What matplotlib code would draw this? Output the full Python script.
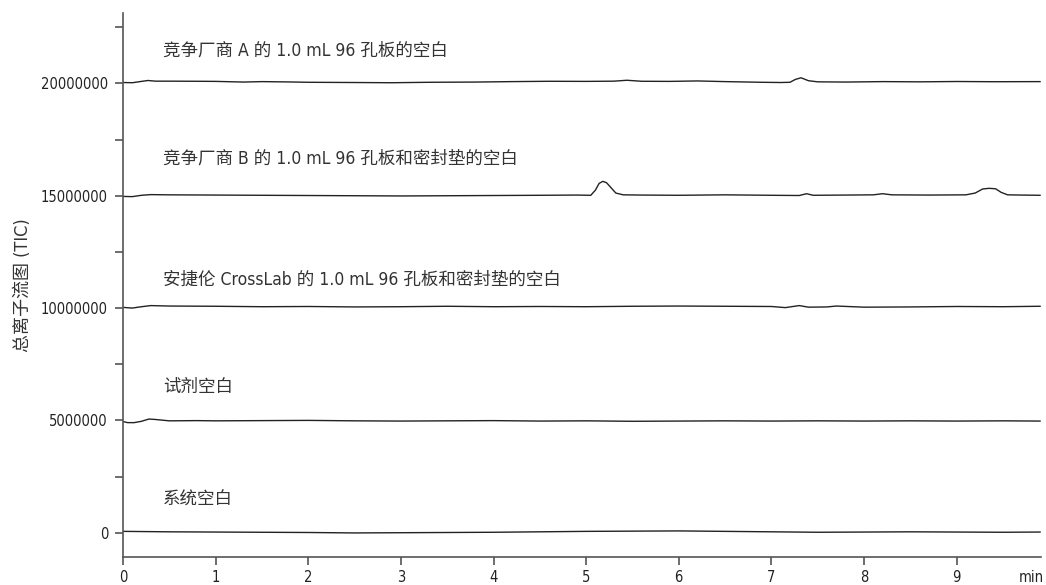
import matplotlib
matplotlib.use("Agg")
import matplotlib.pyplot as plt
import numpy as np

plt.rcParams['font.family'] = ['DejaVu Sans', 'Noto Sans CJK SC']
plt.rcParams['font.stretch'] = 'condensed'

# ---- data (offset traces, TIC counts) ----
offsets = [20000000, 15000000, 10000000, 5000000, 0]
labels = ["竞争厂商 A 的 1.0 mL 96 孔板的空白",
          "竞争厂商 B 的 1.0 mL 96 孔板和密封垫的空白",
          "安捷伦 CrossLab 的 1.0 mL 96 孔板和密封垫的空白",
          "试剂空白",
          "系统空白"]

t_a = [0, 0.1, 0.2, 0.27, 0.35, 0.5, 0.8, 1.0, 1.3, 1.5, 1.8, 2.0, 2.5, 2.9, 3.3, 3.8, 4.2, 4.6,
       5.0, 5.3, 5.44, 5.6, 5.9, 6.2, 6.5, 6.9, 7.1, 7.2, 7.26, 7.32, 7.4, 7.5, 7.8, 8.2, 8.6, 9.0, 9.4, 9.9]
v_a = [40, 30, 90, 130, 100, 100, 95, 90, 60, 80, 65, 50, 40, 30, 50, 60, 80, 95,
       90, 100, 140, 95, 90, 110, 80, 50, 40, 50, 180, 250, 120, 70, 60, 80, 70, 85, 75, 80]

t_b = [0, 0.1, 0.2, 0.3, 0.5, 1, 1.5, 2, 2.5, 3, 3.5, 4, 4.5, 4.9, 5.05, 5.1, 5.14, 5.18, 5.22,
       5.27, 5.32, 5.4, 5.6, 6, 6.5, 7, 7.3, 7.38, 7.45, 7.8, 8.1, 8.2, 8.3, 8.7, 9.1, 9.2, 9.28,
       9.35, 9.42, 9.48, 9.55, 9.7, 9.9]
v_b = [-30, -40, 20, 50, 40, 30, 20, 10, 0, -10, 0, 10, 20, 30, 20, 250, 550, 640, 580,
       350, 120, 40, 30, 20, 40, 20, 10, 90, 20, 30, 40, 90, 40, 30, 40, 120, 300,
       330, 310, 150, 40, 30, 20]

t_c = [0, 0.1, 0.2, 0.3, 0.5, 1, 1.5, 2, 2.5, 3, 3.5, 4, 4.5, 5, 5.5, 6, 6.5, 7, 7.15, 7.3,
       7.4, 7.6, 7.7, 8, 8.5, 9, 9.5, 9.9]
v_c = [30, 0, 60, 110, 90, 80, 60, 70, 50, 60, 80, 60, 70, 60, 80, 90, 80, 70, 20, 110,
       40, 50, 90, 40, 50, 70, 60, 80]

t_d = [0, 0.05, 0.12, 0.2, 0.28, 0.35, 0.5, 0.8, 1, 1.5, 2, 2.5, 3, 3.5, 4, 4.5, 5, 5.5, 6,
       6.5, 7, 7.5, 8, 8.5, 9, 9.5, 9.9]
v_d = [-50, -100, -100, -40, 60, 40, -20, -10, -20, -10, 0, -20, -30, -20, -10, -30, -20,
       -40, -30, -20, -30, -20, -30, -20, -30, -20, -30]

t_e = [0, 0.5, 1, 1.5, 2, 2.5, 3, 3.5, 4, 4.5, 5, 5.5, 6, 6.5, 7, 7.5, 8, 8.5, 9, 9.5, 9.9]
v_e = [60, 40, 30, 20, 10, -10, 0, 10, 20, 40, 60, 70, 80, 60, 40, 20, 30, 40, 30, 20, 30]

traces = [(t_a, v_a), (t_b, v_b), (t_c, v_c), (t_d, v_d), (t_e, v_e)]
label_y = [21470000, 16650000, 11250000, 6470000, 1460000]
label_x = 0.43

x_ticks = [0, 1, 2, 3, 4, 5, 6, 7, 8, 9]
y_major = [0, 5000000, 10000000, 15000000, 20000000]
y_minor = [2500000, 7500000, 12500000, 17500000, 22500000]

fig = plt.figure(figsize=(10.46, 5.85), dpi=100)
ax = fig.add_axes([0.1176, 0.0479, 0.8776, 0.9301])

for (t, v), off in zip(traces, offsets):
    ax.plot(t, np.array(v) * 1000 + off, color='#222222', lw=1.0)

for lab, ly in zip(labels, label_y):
    ax.text(label_x, ly, lab, fontsize=12.6, color='#333333', va='center', ha='left')

ax.set_xlim(0, 9.91)
ax.set_ylim(-1080000, 23140000)
ax.set_xticks(x_ticks)
ax.set_xticklabels([str(x) for x in x_ticks])
ax.set_yticks(y_major)
ax.set_yticklabels([str(y) for y in y_major])
ax.set_yticks(y_minor, minor=True)

for s in ['top', 'right']:
    ax.spines[s].set_visible(False)
for s in ['left', 'bottom']:
    ax.spines[s].set_color('#555555')
    ax.spines[s].set_linewidth(1.2)

ax.tick_params(axis='both', which='both', direction='out', color='#555555', width=1.2,
               labelsize=10.5, labelcolor='#222222')
ax.tick_params(axis='y', which='both', length=6, pad=4.8)
ax.tick_params(axis='x', which='major', length=6, pad=3.3)

ax.annotate('min', xy=(9.91, 0), xycoords=('data', 'axes fraction'),
            xytext=(-7, -9.5), textcoords='offset points', ha='center', va='top',
            fontsize=10.5, color='#222222')

ax.set_ylabel('总离子流图 (TIC)', fontsize=13, color='#333333')
ax.yaxis.set_label_coords(-0.099, 0.5)

fig.savefig('out.png', dpi=100)
